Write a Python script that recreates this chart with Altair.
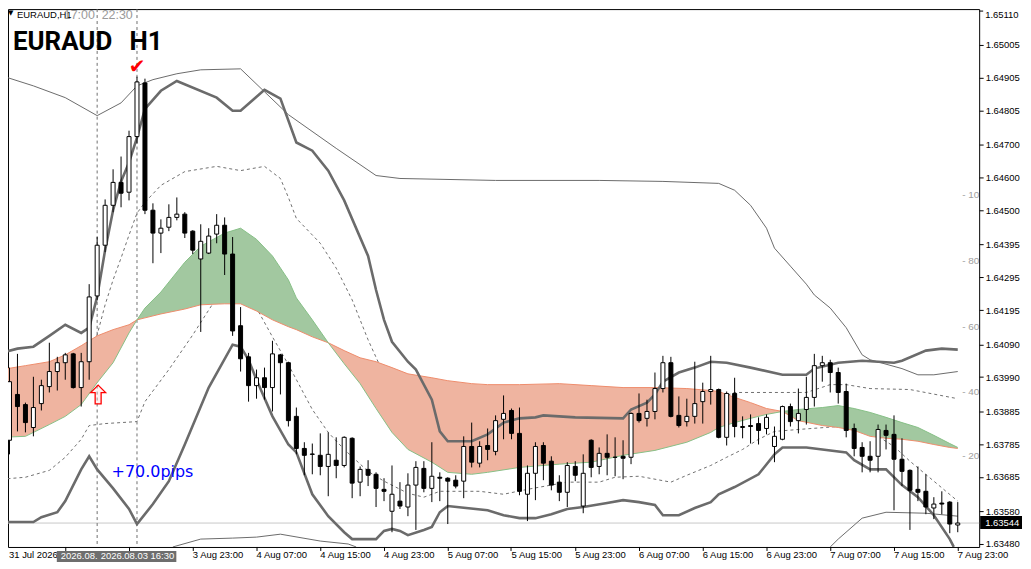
import altair as alt
import numpy as np
import pandas as pd

# ---------------- candles (hourly, bar index 0..120) ----------------
OPEN = [
    1.63900, 1.63797, 1.63937, 1.63906, 1.63836, 1.63909, 1.63961, 1.64007, 1.64034, 1.64061,
    1.63958, 1.64037, 1.64238, 1.64393, 1.64515, 1.64585, 1.64555, 1.64725, 1.64889, 1.64500,
    1.64430, 1.64448, 1.64478, 1.64488, 1.64436, 1.64351, 1.64369, 1.64427, 1.64454, 1.64366,
    1.64147, 1.64052, 1.63964, 1.63988, 1.63958, 1.64058, 1.64034, 1.63870, 1.63772, 1.63755,
    1.63751, 1.63717, 1.63736, 1.63720, 1.63803, 1.63669, 1.63708, 1.63693, 1.63647, 1.63580,
    1.63611, 1.63593, 1.63660, 1.63711, 1.63650, 1.63684, 1.63681, 1.63675, 1.63672, 1.63778,
    1.63727, 1.63781, 1.63763, 1.63861, 1.63888, 1.63818, 1.63632, 1.63696, 1.63781, 1.63733,
    1.63669, 1.63638, 1.63717, 1.63596, 1.63797, 1.63717, 1.63757, 1.63745, 1.63748, 1.63745,
    1.63879, 1.63864, 1.63885, 1.63955, 1.64034, 1.63873, 1.63854, 1.63870, 1.63915, 1.63946,
    1.63952, 1.63806, 1.63940, 1.63836, 1.63842, 1.63848, 1.63833, 1.63778, 1.63800, 1.63900,
    1.63857, 1.63891, 1.63928, 1.64025, 1.64034, 1.64004, 1.63946, 1.63833, 1.63775, 1.63748,
    1.63748, 1.63827, 1.63815, 1.63739, 1.63705, 1.63647, 1.63641, 1.63590, 1.63605, 1.63608,
    1.63538]
HIGH = [
    1.64013, 1.64019, 1.64061, 1.63912, 1.63991, 1.63982, 1.64095, 1.64052, 1.64064, 1.64064,
    1.64064, 1.64274, 1.64418, 1.64533, 1.64625, 1.64664, 1.64743, 1.64908, 1.64902, 1.64521,
    1.64472, 1.64518, 1.64539, 1.64494, 1.64439, 1.64457, 1.64445, 1.64488, 1.64478, 1.64418,
    1.64204, 1.64064, 1.64013, 1.64019, 1.64101, 1.64061, 1.64037, 1.63897, 1.63791, 1.63787,
    1.63818, 1.63821, 1.63806, 1.63809, 1.63806, 1.63717, 1.63736, 1.63699, 1.63681, 1.63720,
    1.63669, 1.63696, 1.63733, 1.63733, 1.63791, 1.63699, 1.63684, 1.63690, 1.63809, 1.63851,
    1.63794, 1.63833, 1.63873, 1.63934, 1.63894, 1.63897, 1.63720, 1.63791, 1.63791, 1.63748,
    1.63690, 1.63730, 1.63733, 1.63754, 1.63800, 1.63775, 1.63815, 1.63806, 1.63797, 1.63882,
    1.63940, 1.63921, 1.64004, 1.64055, 1.64052, 1.63931, 1.63924, 1.64037, 1.63973, 1.64055,
    1.63955, 1.63946, 1.63988, 1.63870, 1.63876, 1.63867, 1.63876, 1.63839, 1.63903, 1.63909,
    1.63955, 1.63991, 1.64061, 1.64055, 1.64043, 1.64019, 1.63970, 1.63848, 1.63791, 1.63794,
    1.63845, 1.63845, 1.63873, 1.63803, 1.63708, 1.63717, 1.63693, 1.63623, 1.63641, 1.63611,
    1.63608]
LOW = [
    1.63809, 1.63754, 1.63824, 1.63821, 1.63809, 1.63888, 1.63943, 1.63949, 1.63982, 1.63955,
    1.63900, 1.63982, 1.64226, 1.64372, 1.64494, 1.64509, 1.64530, 1.64704, 1.64488, 1.64338,
    1.64369, 1.64436, 1.64469, 1.64415, 1.64366, 1.64128, 1.64366, 1.64399, 1.64302, 1.64116,
    1.64007, 1.63915, 1.63924, 1.63921, 1.63885, 1.63937, 1.63839, 1.63754, 1.63690, 1.63693,
    1.63690, 1.63626, 1.63681, 1.63714, 1.63620, 1.63626, 1.63657, 1.63593, 1.63611, 1.63516,
    1.63587, 1.63565, 1.63523, 1.63638, 1.63608, 1.63611, 1.63541, 1.63650, 1.63620, 1.63714,
    1.63714, 1.63736, 1.63751, 1.63800, 1.63800, 1.63629, 1.63550, 1.63614, 1.63675, 1.63644,
    1.63611, 1.63593, 1.63672, 1.63574, 1.63684, 1.63693, 1.63690, 1.63687, 1.63678, 1.63724,
    1.63851, 1.63839, 1.63861, 1.63943, 1.63867, 1.63836, 1.63839, 1.63848, 1.63848, 1.63906,
    1.63803, 1.63781, 1.63806, 1.63803, 1.63787, 1.63784, 1.63815, 1.63730, 1.63797, 1.63839,
    1.63818, 1.63845, 1.63900, 1.63976, 1.63943, 1.63909, 1.63806, 1.63748, 1.63699, 1.63699,
    1.63699, 1.63769, 1.63583, 1.63657, 1.63523, 1.63611, 1.63571, 1.63556, 1.63571, 1.63513,
    1.63516]
CLOSE = [
    1.63988, 1.63976, 1.63900, 1.63851, 1.63897, 1.63964, 1.64007, 1.64034, 1.64058, 1.63958,
    1.64037, 1.64235, 1.64393, 1.64515, 1.64585, 1.64552, 1.64725, 1.64892, 1.64500, 1.64430,
    1.64445, 1.64478, 1.64488, 1.64430, 1.64378, 1.64405, 1.64421, 1.64454, 1.64366, 1.64131,
    1.64046, 1.63964, 1.63988, 1.63958, 1.64061, 1.64034, 1.63857, 1.63772, 1.63751, 1.63754,
    1.63717, 1.63754, 1.63720, 1.63806, 1.63666, 1.63708, 1.63690, 1.63650, 1.63641, 1.63632,
    1.63596, 1.63660, 1.63714, 1.63650, 1.63687, 1.63681, 1.63672, 1.63657, 1.63778, 1.63730,
    1.63778, 1.63769, 1.63857, 1.63879, 1.63818, 1.63641, 1.63696, 1.63778, 1.63727, 1.63660,
    1.63638, 1.63720, 1.63690, 1.63696, 1.63714, 1.63757, 1.63745, 1.63745, 1.63742, 1.63879,
    1.63857, 1.63885, 1.63955, 1.64034, 1.63870, 1.63842, 1.63870, 1.63909, 1.63946, 1.63952,
    1.63806, 1.63940, 1.63839, 1.63839, 1.63839, 1.63827, 1.63867, 1.63809, 1.63900, 1.63854,
    1.63879, 1.63928, 1.64025, 1.64034, 1.64004, 1.63943, 1.63827, 1.63772, 1.63748, 1.63736,
    1.63830, 1.63812, 1.63739, 1.63702, 1.63644, 1.63638, 1.63593, 1.63602, 1.63602, 1.63541,
    1.63544]

# ---------------- indicator lines (bar, price) ----------------
TU_BARS = [0, 4, 8, 12, 15, 17, 19, 22, 25, 30, 33, 36, 42, 47, 50, 62, 75, 83, 90, 92, 94, 96,
           97, 99, 101, 102, 104, 106, 108, 109, 113, 115, 117, 120]
TU_VALS = [1.64911, 1.64880, 1.64844, 1.64789, 1.64828, 1.64880, 1.64899, 1.64917, 1.64929,
           1.64932, 1.64862, 1.64792, 1.64689, 1.64606, 1.64597, 1.64591, 1.64591, 1.64588,
           1.64582, 1.64561, 1.64515, 1.64445, 1.64384, 1.64329, 1.64274, 1.64241, 1.64201,
           1.64141, 1.64058, 1.64043, 1.64016, 1.63997, 1.63997, 1.64007]

TL_BARS = [21.5, 25, 29, 32, 35, 40, 43.5, 44.5, 104, 105, 108, 111, 116, 120]
TL_VALS = [1.63471, 1.63495, 1.63498, 1.63501, 1.63510, 1.63489, 1.63480, 1.63471,
           1.63471, 1.63495, 1.63559, 1.63577, 1.63574, 1.63565]
TL_SEG = [0] * 8 + [1] * 6

KU_BARS = [0, 2, 4, 6, 8, 10, 11, 12, 13, 14, 15, 16, 17, 18, 20, 22, 27, 29, 30, 33, 35, 37, 39,
           41, 43, 46, 47, 48, 49, 51, 52, 54, 55, 56, 59, 61, 63, 65, 67, 68, 72, 78, 79, 81, 82,
           83, 85, 87, 89, 91, 94, 98, 101, 102, 105, 108, 112, 113, 116, 118, 120]
KU_VALS = [1.64064, 1.64077, 1.64083, 1.64116, 1.64150, 1.64125, 1.64141, 1.64235, 1.64378,
           1.64500, 1.64588, 1.64646, 1.64722, 1.64810, 1.64865, 1.64895, 1.64844, 1.64804,
           1.64804, 1.64868, 1.64841, 1.64707, 1.64682, 1.64621, 1.64530, 1.64360, 1.64256,
           1.64165, 1.64098, 1.64037, 1.64013, 1.63921, 1.63824, 1.63794, 1.63794, 1.63815,
           1.63851, 1.63864, 1.63867, 1.63873, 1.63867, 1.63864, 1.63891, 1.63912, 1.63937,
           1.63976, 1.64004, 1.64019, 1.64037, 1.64034, 1.64019, 1.63997, 1.63997, 1.64016,
           1.64034, 1.64040, 1.64034, 1.64040, 1.64071, 1.64077, 1.64074]

KL_BARS = [0, 4, 5, 7, 8, 10, 11, 12, 14, 16, 17, 19, 21, 23, 26, 29, 30, 31, 32, 34, 36, 37, 39,
           41, 43, 44, 47, 48, 49, 50, 51, 53, 54, 55, 56, 61, 63, 65, 67, 69, 71, 73, 76, 78, 80,
           82, 83, 85, 87, 89, 90, 92, 95, 97, 98, 101, 106, 107, 109, 111, 113, 115, 117, 119,
           119.5]
KL_VALS = [1.63547, 1.63547, 1.63562, 1.63577, 1.63611, 1.63708, 1.63748, 1.63708, 1.63650,
           1.63587, 1.63541, 1.63602, 1.63672, 1.63784, 1.63958, 1.64089, 1.64083, 1.64043,
           1.63982, 1.63870, 1.63784, 1.63760, 1.63632, 1.63565, 1.63516, 1.63495, 1.63495,
           1.63520, 1.63526, 1.63520, 1.63507, 1.63523, 1.63532, 1.63577, 1.63596, 1.63583,
           1.63568, 1.63559, 1.63559, 1.63571, 1.63587, 1.63593, 1.63605, 1.63614, 1.63608,
           1.63599, 1.63568, 1.63568, 1.63590, 1.63608, 1.63632, 1.63654, 1.63693, 1.63754,
           1.63775, 1.63775, 1.63760, 1.63736, 1.63708, 1.63708, 1.63660, 1.63623, 1.63568,
           1.63495, 1.63471]

DU_BARS = [0, 2, 5, 8, 10, 11, 12, 13, 14, 15, 16, 17, 18, 20, 23, 27, 30, 33, 35, 36, 37, 40, 42,
           44, 46, 48, 51, 53, 55, 56, 61, 64, 67, 72, 76, 78, 81, 83, 86, 90, 92, 101, 104, 106,
           109, 114, 120]
DU_VALS = [1.63946, 1.63943, 1.63961, 1.63991, 1.64022, 1.64058, 1.64119, 1.64211, 1.64287,
           1.64354, 1.64424, 1.64491, 1.64524, 1.64576, 1.64618, 1.64634, 1.64621, 1.64634,
           1.64597, 1.64539, 1.64475, 1.64399, 1.64323, 1.64226, 1.64104, 1.63997, 1.63921,
           1.63867, 1.63784, 1.63748, 1.63748, 1.63784, 1.63794, 1.63800, 1.63803, 1.63809,
           1.63848, 1.63876, 1.63900, 1.63924, 1.63943, 1.63943, 1.63967, 1.63967, 1.63955,
           1.63952, 1.63924]

DL_BARS = [0, 3, 6, 8, 10, 11, 13, 17, 18, 21, 24, 26, 27, 29, 30, 32, 34, 36, 39, 41, 43, 46, 48,
           51, 53, 55, 60, 63, 66, 71, 75, 77, 80, 84, 86, 89, 91, 93, 95, 97, 100, 105, 107, 110,
           112, 114, 117, 120]
DL_VALS = [1.63678, 1.63684, 1.63705, 1.63745, 1.63800, 1.63842, 1.63848, 1.63854, 1.63915,
           1.64013, 1.64119, 1.64195, 1.64232, 1.64265, 1.64271, 1.64201, 1.64113, 1.64028,
           1.63891, 1.63821, 1.63769, 1.63702, 1.63672, 1.63635, 1.63623, 1.63641, 1.63641,
           1.63632, 1.63647, 1.63669, 1.63669, 1.63684, 1.63687, 1.63669, 1.63690, 1.63720,
           1.63745, 1.63769, 1.63800, 1.63824, 1.63830, 1.63839, 1.63830, 1.63809, 1.63778,
           1.63733, 1.63672, 1.63611]

# two moving averages whose gap is shaded
MA_BARS = [0, 3, 6, 8, 10, 12, 14, 16, 17, 18, 20, 23, 25, 28, 30, 32, 34, 36, 37, 39, 41, 43, 45,
           47, 49, 51, 54, 56, 59, 61, 65, 70, 74, 78, 82, 86, 89, 90, 92, 94, 96, 98, 100, 103,
           105, 107, 109, 111, 113, 115, 117, 119, 120]
SLOW_MA = [1.64013, 1.64025, 1.64037, 1.64058, 1.64086, 1.64116, 1.64135, 1.64150, 1.64165,
           1.64171, 1.64183, 1.64198, 1.64211, 1.64214, 1.64214, 1.64192, 1.64165, 1.64144,
           1.64135, 1.64113, 1.64095, 1.64071, 1.64049, 1.64037, 1.64019, 1.64000, 1.63988,
           1.63979, 1.63970, 1.63967, 1.63967, 1.63970, 1.63964, 1.63958, 1.63958, 1.63955,
           1.63949, 1.63946, 1.63928, 1.63912, 1.63894, 1.63885, 1.63857, 1.63842, 1.63836,
           1.63827, 1.63809, 1.63803, 1.63800, 1.63794, 1.63784, 1.63775, 1.63772]
FAST_MA = [1.63806, 1.63809, 1.63845, 1.63870, 1.63906, 1.63973, 1.64034, 1.64125, 1.64165,
           1.64201, 1.64250, 1.64341, 1.64390, 1.64430, 1.64445, 1.64411, 1.64360, 1.64287,
           1.64232, 1.64165, 1.64095, 1.64031, 1.63970, 1.63894, 1.63821, 1.63769, 1.63730,
           1.63699, 1.63693, 1.63699, 1.63714, 1.63724, 1.63730, 1.63751, 1.63766, 1.63791,
           1.63821, 1.63836, 1.63851, 1.63864, 1.63876, 1.63885, 1.63891, 1.63897, 1.63903,
           1.63894, 1.63882, 1.63867, 1.63851, 1.63836, 1.63812, 1.63787, 1.63775]

# ---------------- axes text ----------------
TOP_PRICE = "1.65110"
PRICE_TICKS = [1.65005, 1.64905, 1.64805, 1.64700, 1.64600, 1.64500, 1.64395, 1.64295,
               1.64195, 1.64090, 1.63990, 1.63885, 1.63785, 1.63685, 1.63580, 1.63480]
LAST_PRICE = 1.63544
TIME_TICK_BARS = [8, 16, 24, 32, 40, 48, 56, 64, 72, 80, 88, 96, 104, 112, 120]
TIME_BARS = [24, 32, 40, 48, 56, 64, 72, 80, 88, 96, 104, 112, 120]
TIME_TEXT = ["3 Aug 23:00", "4 Aug 07:00", "4 Aug 15:00", "4 Aug 23:00", "5 Aug 07:00",
             "5 Aug 15:00", "5 Aug 23:00", "6 Aug 07:00", "6 Aug 15:00", "6 Aug 23:00",
             "7 Aug 07:00", "7 Aug 15:00", "7 Aug 23:00"]
FIRST_TIME = "31 Jul 2026"
VLINE_BARS = [12, 17]
OSC_TEXT = ["- 100", "- 80", "- 60", "- 40", "- 20"]

# ---------------- styling ----------------
W, H = 975, 540
XS = alt.Scale(domain=[0.8125, 122.6875], nice=False, zero=False)
YS = alt.Scale(domain=[1.634709, 1.651146], nice=False, zero=False)
XAX = alt.Axis(values=TIME_TICK_BARS, labels=False, ticks=True, tickSize=4, tickColor="black",
               tickWidth=1, domain=False, grid=False, title=None, translate=0)
YAX = alt.Axis(orient="right", values=PRICE_TICKS, format=".5f", ticks=True, tickSize=4,
               tickColor="black", domain=False, grid=False, title=None,
               labelFont="Liberation Sans", labelFontSize=9.5, labelColor="black",
               labelPadding=2, labelOverlap=False, labelFlush=False)
GREY = "#6b6b6b"


def X(f):
    return alt.X(f, type="quantitative", scale=XS, axis=XAX)


def Y(f):
    return alt.Y(f, type="quantitative", scale=YS, axis=YAX)


def line_layer(bars, vals, color, width, dash=None, seg=None):
    d = pd.DataFrame({"bar": bars, "v": vals})
    kw = dict(color=color, strokeWidth=width, clip=True)
    if dash:
        kw["strokeDash"] = dash
    enc = dict(x=X("bar"), y=Y("v"))
    if seg is not None:
        d["seg"] = seg
        enc["detail"] = "seg:N"
    return alt.Chart(d).mark_line(**kw).encode(**enc)


def label(t, x, y, **kw):
    return alt.Chart(pd.DataFrame({"t": [t]})).mark_text(**kw).encode(
        text="t:N", x=alt.value(x), y=alt.value(y))


# candles table
cd = pd.DataFrame({"bar": np.arange(len(OPEN)), "open": OPEN, "high": HIGH,
                   "low": LOW, "close": CLOSE})
cd["top"] = cd[["open", "close"]].max(axis=1)
cd["bot"] = cd[["open", "close"]].min(axis=1)
cd["fill"] = np.where(cd["close"] >= cd["open"], "white", "black")
cd["xl"] = cd["bar"] - 0.25
cd["xr"] = cd["bar"] + 0.25

# MA shading table
ma = pd.DataFrame({"bar": MA_BARS, "slow": SLOW_MA, "fast": FAST_MA})
ma["hi"] = ma[["slow", "fast"]].max(axis=1)
ma["lo"] = ma[["slow", "fast"]].min(axis=1)

layers = []

# bid line
layers.append(alt.Chart(pd.DataFrame({"p": [LAST_PRICE]})).mark_rule(
    color="#c8c8c8", strokeWidth=1).encode(y=Y("p")))
# vertical dashed lines
layers.append(alt.Chart(pd.DataFrame({"bar": VLINE_BARS})).mark_rule(
    color="#6e6e6e", strokeWidth=1, strokeDash=[3, 3]).encode(x=X("bar")))
# dashed bands
layers.append(line_layer(DU_BARS, DU_VALS, "#707070", 1, dash=[3, 3]))
layers.append(line_layer(DL_BARS, DL_VALS, "#707070", 1, dash=[3, 3]))
# MA fills
layers.append(alt.Chart(ma).mark_area(color="#a2c8a0", opacity=1, clip=True).encode(
    x=X("bar"), y=Y("slow"), y2="hi"))
layers.append(alt.Chart(ma).mark_area(color="#efb4a0", opacity=1, clip=True).encode(
    x=X("bar"), y=Y("lo"), y2="slow"))
layers.append(line_layer(MA_BARS, SLOW_MA, "#ee8c6c", 1))
layers.append(line_layer(MA_BARS, FAST_MA, "#86c086", 1))
# thin outer band
layers.append(line_layer(TU_BARS, TU_VALS, GREY, 1))
layers.append(line_layer(TL_BARS, TL_VALS, GREY, 1, seg=TL_SEG))
# thick band
layers.append(line_layer(KU_BARS, KU_VALS, GREY, 2.6))
layers.append(line_layer(KL_BARS, KL_VALS, GREY, 2.6))
# candles
layers.append(alt.Chart(cd).mark_rule(color="black", strokeWidth=1, clip=True).encode(
    x=X("bar"), y=Y("low"), y2="high"))
layers.append(alt.Chart(cd).mark_rect(stroke="black", strokeWidth=1, clip=True).encode(
    x=X("xl"), x2="xr", y=Y("bot"), y2="top", fill=alt.Fill("fill:N", scale=None)))

# annotations
layers.append(label("\u25bc", 0, 6, font="DejaVu Sans", fontSize=7, color="black",
                    align="left", baseline="alphabetic"))
layers.append(label("EURAUD,H1", 9, 8.5, font="Liberation Sans", fontSize=9.5, color="black",
                    align="left", baseline="alphabetic"))
layers.append(label("17:00", 56, 9.5, font="Liberation Sans", fontSize=12.5, color="#9a9a9a",
                    align="left", baseline="alphabetic"))
layers.append(label("22:30", 94, 9.5, font="Liberation Sans", fontSize=12.5, color="#9a9a9a",
                    align="left", baseline="alphabetic"))
layers.append(label("EURAUD", 5, 41.5, font="Roboto", fontSize=26, fontWeight="bold",
                    color="black", align="left", baseline="alphabetic"))
layers.append(label("H1", 122, 41.5, font="Roboto", fontSize=26, fontWeight="bold",
                    color="black", align="left", baseline="alphabetic"))
layers.append(label("\u2714", 129.5, 58, font="DejaVu Sans", fontSize=20, color="#ff0000",
                    align="center", baseline="middle"))
layers.append(alt.Chart(pd.DataFrame({"a": [1]})).mark_point(
    shape="M0,-1L1,0L0.4,0L0.4,1.5L-0.4,1.5L-0.4,0L-1,0Z", size=225, filled=True,
    fill="#ffd6d6", fillOpacity=0.35, stroke="#ff0000", strokeWidth=1.3, opacity=1).encode(
    x=alt.value(90.5), y=alt.value(385)))
layers.append(label("+70.0pips", 104, 470, font="DejaVu Sans", fontSize=16, color="#0000ff",
                    align="left", baseline="alphabetic"))
for t, yy in zip(OSC_TEXT, [187, 253, 319, 384, 449]):
    layers.append(label(t, 958, yy, font="Liberation Sans", fontSize=10, color="#a0a0a0",
                        align="left", baseline="middle", clip=True))

# top price label (kept inside the page)
layers.append(alt.Chart(pd.DataFrame({"a": [1]})).mark_rule(color="black", strokeWidth=1).encode(
    x=alt.value(975), x2=alt.value(979), y=alt.value(2)))
layers.append(label(TOP_PRICE, 981, 5.5, font="Liberation Sans", fontSize=9.5, color="black",
                    align="left", baseline="middle"))

# bottom time labels
tl = pd.DataFrame({"bar": TIME_BARS, "t": TIME_TEXT})
layers.append(alt.Chart(tl).mark_text(font="Liberation Sans", fontSize=9.5, color="black",
                                      align="left", baseline="middle", dx=0).encode(
    x=X("bar"), y=alt.value(548.5), text="t:N"))
layers.append(label(FIRST_TIME, 1, 548.5, font="Liberation Sans", fontSize=9.5,
                    color="black", align="left", baseline="middle"))
layers.append(alt.Chart(pd.DataFrame({"a": [1]})).mark_rect(color="#6e6e6e").encode(
    x=alt.value(49), x2=alt.value(169), y=alt.value(544), y2=alt.value(555)))
layers.append(label("2026.08.", 53, 549.5, font="Liberation Sans", fontSize=9.5,
                    color="white", align="left", baseline="middle"))
layers.append(label("2026.08.03 16:30", 93, 549.5, font="Liberation Sans", fontSize=9.5,
                    color="white", align="left", baseline="middle"))

# current price box
layers.append(alt.Chart(pd.DataFrame({"a": [1]})).mark_rect(color="black").encode(
    x=alt.value(976), x2=alt.value(1018), y=alt.value(509), y2=alt.value(522)))
layers.append(label("1.63544", 981, 515.5, font="Liberation Sans", fontSize=9.5,
                    color="white", align="left", baseline="middle"))

chart = alt.layer(*layers).properties(
    width=W, height=H,
    autosize=alt.AutoSizeParams(type="none"),
    padding={"left": 0, "top": 0, "right": 44, "bottom": 16},
    background="white",
).configure_view(stroke="black", strokeWidth=1)

chart.save("out.html", embed_options={"renderer": "svg", "actions": False})
